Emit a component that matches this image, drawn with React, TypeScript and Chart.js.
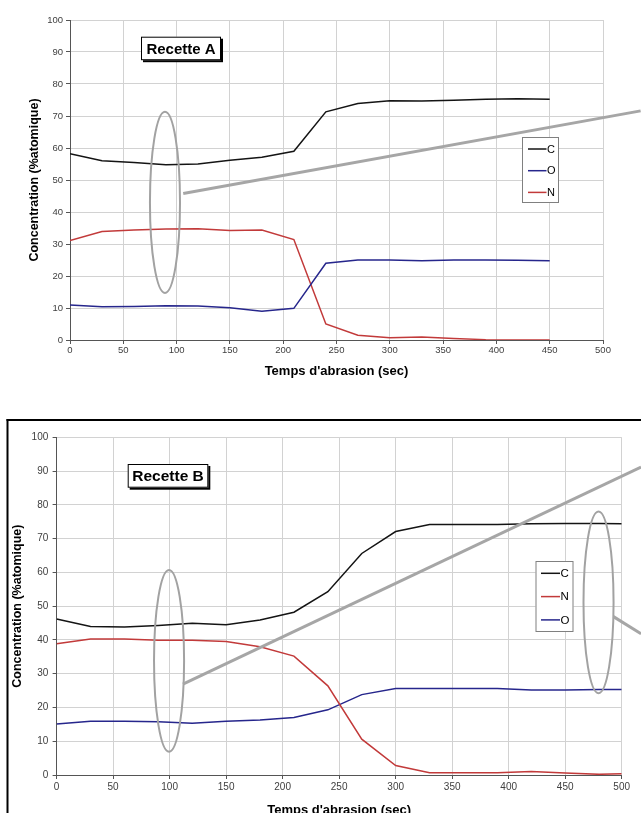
import React, { useEffect, useRef } from "react";
import { Chart, registerables } from "chart.js";

Chart.register(...registerables);

// ---------- Data: Recette A ----------
const timeA = [0, 30, 60, 90, 120, 150, 180, 210, 240, 270, 300, 330, 360, 390, 420, 450];
const carbonA = [58.2, 56.0, 55.5, 54.8, 55.0, 56.2, 57.1, 59.0, 71.3, 73.9, 74.8, 74.7, 74.9, 75.2, 75.4, 75.2];
const oxygenA = [10.9, 10.4, 10.5, 10.7, 10.6, 10.1, 9.0, 9.9, 24.0, 25.0, 25.0, 24.8, 25.0, 25.0, 24.9, 24.8];
const nitrogenA = [31.1, 33.9, 34.4, 34.7, 34.8, 34.2, 34.4, 31.4, 5.0, 1.5, 0.7, 0.9, 0.5, 0.1, 0.0, 0.0];

// ---------- Data: Recette B ----------
const timeB = [0, 30, 60, 90, 120, 150, 180, 210, 240, 270, 300, 330, 360, 390, 420, 450, 480, 500];
const carbonB = [46.2, 44.0, 43.8, 44.3, 44.9, 44.5, 45.9, 48.2, 54.3, 65.6, 72.1, 74.2, 74.2, 74.2, 74.4, 74.5, 74.5, 74.4];
const nitrogenB = [38.9, 40.3, 40.3, 39.9, 39.9, 39.5, 38.0, 35.2, 26.4, 10.6, 2.8, 0.7, 0.7, 0.7, 1.0, 0.6, 0.2, 0.4];
const oxygenB = [15.1, 15.9, 15.9, 15.8, 15.3, 15.9, 16.3, 17.0, 19.3, 23.8, 25.6, 25.6, 25.6, 25.6, 25.2, 25.2, 25.3, 25.3];

// ---------- Axes / labels ----------
const xMin = 0;
const xMax = 500;
const xStep = 50;
const yMin = 0;
const yMax = 100;
const yStep = 10;
const xTitle = "Temps d'abrasion (sec)";
const yTitle = "Concentration (%atomique)";
const titleA = "Recette A";
const titleB = "Recette B";

// annotations (data coordinates)
const ellipsesA = [{ x: 89.1, y: 43.0, rx: 14.1, ry: 28.3 }];
const calloutsA = [{ x1: 106.2, y1: 45.8, x2: 535.3, y2: 71.6 }];
const ellipsesB = [
  { x: 99.5, y: 33.8, rx: 13.3, ry: 26.9 },
  { x: 479.5, y: 51.1, rx: 13.3, ry: 26.9 },
];
const calloutsB = [
  { x1: 111.8, y1: 26.9, x2: 517.1, y2: 91.2 },
  { x1: 492.7, y1: 46.9, x2: 517.1, y2: 41.8 },
];

const COLOR_C = "#141414";
const COLOR_O = "#26268c";
const COLOR_N = "#c23a3a";
const FONT = "'Liberation Sans', Arial, Helvetica, sans-serif";

const decoPlugin = {
  id: "deco",
  beforeDraw(chart: any, _args: any, opts: any) {
    if (!opts || !opts.frame) return;
    const ctx = chart.ctx;
    ctx.save();
    ctx.fillStyle = "#000";
    const f = opts.frame;
    ctx.fillRect(f.x, f.y, chart.width - f.x + 10, 2);
    ctx.fillRect(f.x, f.y, 2, chart.height - f.y + 10);
    ctx.restore();
  },
  afterDatasetsDraw(chart: any, _args: any, opts: any) {
    if (!opts) return;
    const ctx = chart.ctx;
    const xs = chart.scales.x;
    const ys = chart.scales.y;
    const px = (v: number) => xs.getPixelForValue(v);
    const py = (v: number) => ys.getPixelForValue(v);
    ctx.save();

    // ellipses
    ctx.strokeStyle = "#a2a2a2";
    ctx.lineWidth = 2;
    for (const e of opts.ellipses || []) {
      const cx = px(e.x);
      const cy = py(e.y);
      const rx = Math.abs(px(e.x + e.rx) - cx);
      const ry = Math.abs(py(e.y + e.ry) - cy);
      ctx.beginPath();
      ctx.ellipse(cx, cy, rx, ry, 0, 0, Math.PI * 2);
      ctx.stroke();
    }
    // callout lines
    ctx.strokeStyle = "#a6a6a6";
    ctx.lineWidth = 3;
    for (const l of opts.callouts || []) {
      ctx.beginPath();
      ctx.moveTo(px(l.x1), py(l.y1));
      ctx.lineTo(px(l.x2), py(l.y2));
      ctx.stroke();
    }

    // title box with shadow
    const b = opts.box;
    if (b) {
      ctx.fillStyle = "#000";
      ctx.fillRect(b.x + 2, b.y + 2, b.w, b.h);
      ctx.fillStyle = "#fff";
      ctx.fillRect(b.x, b.y, b.w, b.h);
      ctx.strokeStyle = "#000";
      ctx.lineWidth = 1;
      ctx.strokeRect(b.x + 0.5, b.y + 0.5, b.w - 1, b.h - 1);
      ctx.font = `bold ${b.size}px ${FONT}`;
      ctx.fillStyle = "#000";
      ctx.textAlign = "center";
      ctx.textBaseline = "middle";
      ctx.fillText(b.text, b.x + b.w / 2, b.y + b.h / 2 + 1);
    }

    // legend
    const lg = opts.legend;
    if (lg) {
      ctx.fillStyle = "#fff";
      ctx.fillRect(lg.x, lg.y, lg.w, lg.h);
      ctx.strokeStyle = "#808080";
      ctx.lineWidth = 1;
      ctx.strokeRect(lg.x + 0.5, lg.y + 0.5, lg.w - 1, lg.h - 1);
      ctx.font = `${lg.size}px ${FONT}`;
      ctx.textAlign = "left";
      ctx.textBaseline = "middle";
      chart.data.datasets.forEach((ds: any, i: number) => {
        const yy = lg.y + lg.first + i * lg.gap;
        ctx.strokeStyle = ds.borderColor;
        ctx.lineWidth = 1.5;
        ctx.beginPath();
        ctx.moveTo(lg.x + lg.lx1, yy);
        ctx.lineTo(lg.x + lg.lx2, yy);
        ctx.stroke();
        ctx.fillStyle = "#000";
        ctx.fillText(ds.label, lg.x + lg.tx, yy + 0.5);
      });
    }
    ctx.restore();
  },
};

function series(times: number[], values: number[]) {
  return times.map((t, i) => ({ x: t, y: values[i] }));
}

function buildConfig(p: any) {
  return {
    type: "line",
    data: {
      datasets: p.datasets.map((d: any) => ({
        label: d.label,
        data: series(p.times, d.values),
        borderColor: d.color,
        backgroundColor: d.color,
        borderWidth: 1.5,
        pointRadius: 0,
        tension: 0,
        fill: false,
      })),
    },
    plugins: [decoPlugin],
    options: {
      responsive: false,
      animation: false,
      devicePixelRatio: 1,
      layout: { padding: { left: 0, top: p.padTop, right: p.padRight, bottom: 0 } },
      plugins: {
        legend: { display: false },
        tooltip: { enabled: false },
        deco: p.deco,
      },
      scales: {
        x: {
          type: "linear",
          min: xMin,
          max: xMax,
          ticks: {
            stepSize: xStep,
            color: "#404040",
            font: { family: FONT, size: p.tickSize },
            padding: p.xTickPad,
            maxRotation: 0,
            autoSkip: false,
          },
          grid: { color: "#d2d2d2", tickColor: "#555", tickLength: 4, lineWidth: 1 },
          border: { color: "#555", width: 1 },
          title: {
            display: true,
            text: xTitle,
            color: "#000",
            font: { family: FONT, size: 13, weight: "bold" },
            padding: { top: 0, bottom: p.xTitlePad },
          },
          afterFit: (s: any) => {
            s.height = p.xHeight;
          },
        },
        y: {
          min: yMin,
          max: yMax,
          ticks: {
            stepSize: yStep,
            color: "#404040",
            font: { family: FONT, size: p.tickSize },
            padding: p.yTickPad,
          },
          grid: { color: "#d2d2d2", tickColor: "#555", tickLength: 4, lineWidth: 1 },
          border: { color: "#555", width: 1 },
          title: {
            display: true,
            text: yTitle,
            color: "#000",
            font: { family: FONT, size: 12.5, weight: "bold" },
            padding: { top: p.yTitlePad, bottom: 0 },
          },
          afterFit: (s: any) => {
            s.width = p.yWidth;
          },
        },
      },
    },
  } as any;
}

const configA = {
  times: timeA,
  datasets: [
    { label: "C", values: carbonA, color: COLOR_C },
    { label: "O", values: oxygenA, color: COLOR_O },
    { label: "N", values: nitrogenA, color: COLOR_N },
  ],
  padTop: 20,
  padRight: 38,
  yWidth: 70,
  xHeight: 40,
  tickSize: 9.5,
  xTickPad: 1,
  yTickPad: 3,
  xTitlePad: 1.2,
  yTitlePad: 26.8,
  deco: {
    ellipses: ellipsesA,
    callouts: calloutsA,
    box: { x: 141, y: 36.7, w: 80, h: 23.5, text: titleA, size: 15 },
    legend: { x: 522, y: 137, w: 37, h: 66, first: 12, gap: 21.7, lx1: 6, lx2: 24.5, tx: 25, size: 11 },
  },
};

const configB = {
  times: timeB,
  datasets: [
    { label: "C", values: carbonB, color: COLOR_C },
    { label: "N", values: nitrogenB, color: COLOR_N },
    { label: "O", values: oxygenB, color: COLOR_O },
  ],
  padTop: 57.3,
  padRight: 19.3,
  yWidth: 56.6,
  xHeight: 55,
  tickSize: 10,
  xTickPad: 2,
  yTickPad: 4.3,
  xTitlePad: 12.2,
  yTitlePad: 10.5,
  deco: {
    frame: { x: 6.5, y: 39 },
    ellipses: ellipsesB,
    callouts: calloutsB,
    box: { x: 127.7, y: 84, w: 80.6, h: 23.7, text: titleB, size: 15.5 },
    legend: { x: 535.5, y: 181, w: 38, h: 71, first: 12.3, gap: 23.3, lx1: 5.5, lx2: 24.5, tx: 25, size: 11.5 },
  },
};

function ChartCanvas({ cfg, top, width, height }: { cfg: any; top: number; width: number; height: number }) {
  const ref = useRef<HTMLCanvasElement>(null);
  useEffect(() => {
    if (!ref.current) return;
    const chart = new Chart(ref.current, buildConfig(cfg));
    return () => chart.destroy();
  }, []);
  return (
    <canvas
      ref={ref}
      width={width}
      height={height}
      style={{ position: "absolute", left: 0, top, width, height, display: "block" }}
    />
  );
}

export default function App() {
  return (
    <div
      style={{
        position: "absolute",
        left: 0,
        top: 0,
        width: 641,
        height: 813,
        overflow: "hidden",
        background: "#fff",
      }}
    >
      <ChartCanvas cfg={configA} top={0} width={641} height={380} />
      <ChartCanvas cfg={configB} top={380} width={641} height={450} />
    </div>
  );
}
